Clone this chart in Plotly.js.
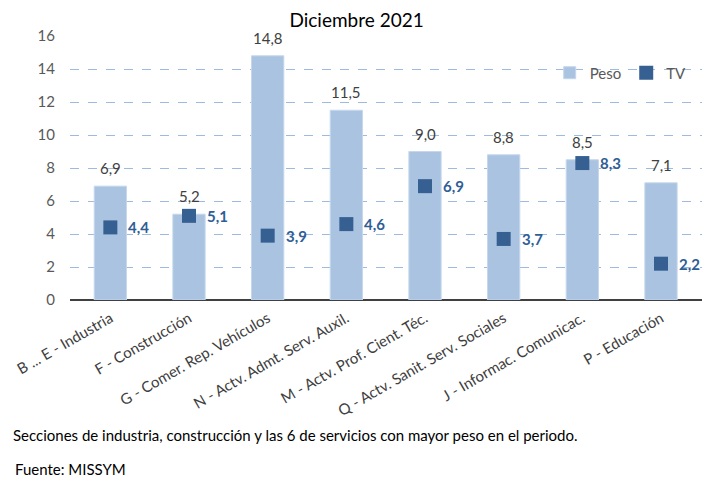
<!DOCTYPE html>
<html><head><meta charset="utf-8">
<script src="https://cdn.plot.ly/plotly-3.0.1.min.js"></script>
<style>html,body{margin:0;padding:0;background:#fff}#chart{width:702px;height:480px}</style>
</head><body><div id="chart"></div>
<script>
const categories = ["B ... E - Industria","F - Construcción","G - Comer. Rep. Vehículos","N - Actv. Admt. Serv. Auxil.","M - Actv. Prof. Cient. Téc.","Q - Actv. Sanit. Serv. Sociales","J - Informac. Comunicac.","P - Educación"];
const peso = [6.9, 5.2, 14.8, 11.5, 9.0, 8.8, 8.5, 7.1];
const tv = [4.4, 5.1, 3.9, 4.6, 6.9, 3.7, 8.3, 2.2];
const yTicks = [0, 2, 4, 6, 8, 10, 12, 14, 16];

const FONT = "Lato, 'Open Sans', sans-serif";
const fmt = v => v.toFixed(1).replace('.', ',');

const traces = [
  {type:'bar', name:'Peso', x:categories, y:peso, width:0.41,
   marker:{color:'#A9C3E1', line:{color:'#C5D7EC', width:1}}, hoverinfo:'none'},
  {type:'scatter', mode:'markers', name:'TV', x:categories, y:tv,
   marker:{symbol:'square', size:14, color:'#376092'}, cliponaxis:false, hoverinfo:'none'}
];

const annotations = [];
categories.forEach((c, i) => {
  annotations.push({x:c, y:peso[i], xref:'x', yref:'y', showarrow:false, yshift:18, yanchor:'middle', xanchor:'center',
    text:fmt(peso[i]), font:{family:FONT, size:15, color:'#404040'}});
  annotations.push({x:c, y:tv[i], xref:'x', yref:'y', showarrow:false, xshift:16, xanchor:'left', yanchor:'middle',
    text:'<b>' + fmt(tv[i]) + '</b>', font:{family:FONT, size:15, color:'#2E5E95'}});
});
annotations.push(
  {xref:'paper', yref:'paper', x:-0.0934, y:-0.511, xanchor:'left', yanchor:'middle', showarrow:false, text:'Secciones de industria, construcción y las 6 de servicios con mayor peso en el periodo.', font:{family:FONT, size:15, color:'#000'}},
  {xref:'paper', yref:'paper', x:-0.090, y:-0.640, xanchor:'left', yanchor:'middle', showarrow:false, text:'Fuente: MISSYM', font:{family:FONT, size:15, color:'#000'}}
);

const layout = {
  width:702, height:480, separators:',.',
  margin:{l:70, r:0, t:36, b:180},
  paper_bgcolor:'#fff', plot_bgcolor:'#fff',
  font:{family:FONT, color:'#595959', size:15},
  title:{text:'Diciembre 2021', font:{family:FONT, size:19, color:'#000'}, xref:'container', x:0.508, xanchor:'center', yref:'container', y:0.958, yanchor:'middle'},
  xaxis:{type:'category', tickangle:-30, tickfont:{family:FONT, size:15, color:'#404040'}, showgrid:false, showline:false, ticks:'', ticklabelstandoff:6, automargin:false},
  yaxis:{range:[0,16], tickvals:yTicks, ticktext:yTicks.map(String), showgrid:true, gridcolor:'#9DBBE0', griddash:'dash', gridwidth:1,
         zeroline:true, zerolinecolor:'#404040', zerolinewidth:2, showline:false, ticks:'', ticklabelstandoff:14, tickfont:{family:FONT, size:15, color:'#595959'}, automargin:false},
  showlegend:true,
  legend:{orientation:'h', x:0.759, xanchor:'left', y:0.86, yanchor:'middle', bgcolor:'rgba(0,0,0,0)', font:{family:FONT, size:15, color:'#595959'}, itemwidth:30, traceorder:'normal'},
  annotations:annotations
};
Plotly.newPlot('chart', traces, layout, {displayModeBar:false, responsive:false});
</script></body></html>
